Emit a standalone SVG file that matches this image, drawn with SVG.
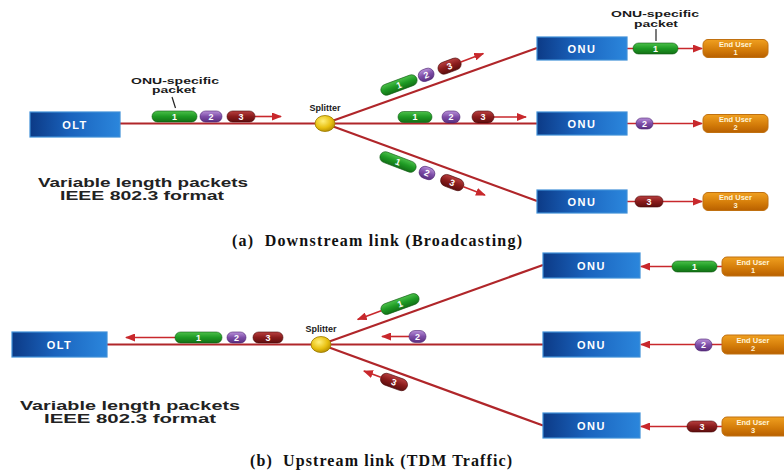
<svg xmlns="http://www.w3.org/2000/svg" width="784" height="471" viewBox="0 0 784 471">
<defs>
<linearGradient id="gBlue" x1="0" y1="0" x2="1" y2="0">
<stop offset="0" stop-color="#0c3a86"/><stop offset="0.45" stop-color="#1a63bd"/><stop offset="1" stop-color="#2b86dc"/>
</linearGradient>
<linearGradient id="gOrange" x1="0" y1="0" x2="0" y2="1">
<stop offset="0" stop-color="#f0a020"/><stop offset="0.6" stop-color="#d27a08"/><stop offset="1" stop-color="#b86000"/>
</linearGradient>
<linearGradient id="gGreen" x1="0" y1="0" x2="0" y2="1">
<stop offset="0" stop-color="#4cc04a"/><stop offset="0.5" stop-color="#1e9a24"/><stop offset="1" stop-color="#137016"/>
</linearGradient>
<linearGradient id="gPurple" x1="0" y1="0" x2="0" y2="1">
<stop offset="0" stop-color="#b890d8"/><stop offset="0.5" stop-color="#7e4ea8"/><stop offset="1" stop-color="#5a2f80"/>
</linearGradient>
<linearGradient id="gRed" x1="0" y1="0" x2="0" y2="1">
<stop offset="0" stop-color="#b84040"/><stop offset="0.5" stop-color="#8a1c1c"/><stop offset="1" stop-color="#5e0e0e"/>
</linearGradient>
<radialGradient id="gYellow" cx="0.4" cy="0.35" r="0.7">
<stop offset="0" stop-color="#fff07a"/><stop offset="0.6" stop-color="#e8c010"/><stop offset="1" stop-color="#b08a00"/>
</radialGradient>
<marker id="ah" viewBox="0 0 10 8" refX="9" refY="4" markerWidth="10" markerHeight="8" markerUnits="userSpaceOnUse" orient="auto">
<path d="M0,0 L10,4 L0,8 Z" fill="#c8282c"/>
</marker>
<style>
.box{fill:url(#gBlue);stroke:#3f8fd8;stroke-width:1.2}
.boxt{font-family:"Liberation Sans",Arial,sans-serif;font-weight:bold;font-size:11px;fill:#ffffff;text-anchor:middle;letter-spacing:1.5px}
.eu{fill:url(#gOrange);stroke:#c07010;stroke-width:1}
.eut{font-family:"Liberation Sans",Arial,sans-serif;font-weight:bold;font-size:7.5px;fill:#fff4d8;text-anchor:middle}
.fib{stroke:#b0262a;stroke-width:2.2;fill:none}
.arr{stroke:#c8282c;stroke-width:1.6;fill:none;marker-end:url(#ah)}
.pg{fill:url(#gGreen);stroke:#0f5a12;stroke-width:0.6}
.pp{fill:url(#gPurple);stroke:#4a2070;stroke-width:0.6}
.pr{fill:url(#gRed);stroke:#4a0808;stroke-width:0.6}
.pt{font-family:"Liberation Sans",Arial,sans-serif;font-weight:bold;font-size:9px;fill:#ffffff;text-anchor:middle}
.lbl{font-family:"Liberation Sans",Arial,sans-serif;font-weight:bold;font-size:9px;fill:#1a1a1a;text-anchor:middle}
.note{font-family:"Liberation Sans",Arial,sans-serif;font-weight:bold;font-size:13px;fill:#222222;text-anchor:middle}
.cap{font-family:"Liberation Serif","Times New Roman",serif;font-weight:bold;font-size:16px;fill:#111111}
.lead{stroke:#222222;stroke-width:1.2}
</style>
</defs>
<rect width="784" height="471" fill="#ffffff"/>

<!-- ================= (a) Downstream ================= -->
<g id="connectors-a">
<line class="fib" x1="120" y1="123.5" x2="325" y2="123.5"/>
<line class="fib" x1="325" y1="123.5" x2="537" y2="48"/>
<line class="fib" x1="325" y1="123.5" x2="537" y2="123.5"/>
<line class="fib" x1="325" y1="123.5" x2="537" y2="201"/>
<line class="arr" x1="627" y1="48.5" x2="702" y2="48.5"/>
<line class="arr" x1="627" y1="123.5" x2="702" y2="123.5"/>
<line class="arr" x1="627" y1="201.5" x2="702" y2="201.5"/>
<line class="arr" x1="255" y1="116.5" x2="281" y2="116.5"/>
<line class="arr" x1="493" y1="117" x2="526" y2="117"/>
<line class="lead" x1="172" y1="97" x2="175.5" y2="108"/>
<line class="lead" x1="656" y1="29" x2="656" y2="41"/>
</g>

<g id="olt-a">
<rect class="box" x="30" y="112" width="90" height="25"/>
<text class="boxt" x="75" y="128.5">OLT</text>
</g>
<g id="splitter-a">
<ellipse cx="325" cy="123.5" rx="10" ry="8" fill="url(#gYellow)" stroke="#9a7a00" stroke-width="0.8"/>
<text class="lbl" x="325" y="111" font-size="9.5">Splitter</text>
</g>
<g id="onu1-a">
<rect class="box" x="537" y="37" width="90" height="23"/>
<text class="boxt" x="582" y="52.5">ONU</text>
</g>
<g id="onu2-a">
<rect class="box" x="537" y="112" width="90" height="23"/>
<text class="boxt" x="582" y="127.5">ONU</text>
</g>
<g id="onu3-a">
<rect class="box" x="537" y="190" width="90" height="23"/>
<text class="boxt" x="582" y="205.5">ONU</text>
</g>
<g id="eu1-a">
<rect class="eu" x="703" y="39.5" width="65" height="18" rx="5"/>
<text class="eut" x="735.5" y="47">End User</text><text class="eut" x="735.5" y="55">1</text>
</g>
<g id="eu2-a">
<rect class="eu" x="703" y="114.5" width="65" height="18" rx="5"/>
<text class="eut" x="735.5" y="122">End User</text><text class="eut" x="735.5" y="130">2</text>
</g>
<g id="eu3-a">
<rect class="eu" x="703" y="192.5" width="65" height="18" rx="5"/>
<text class="eut" x="735.5" y="200">End User</text><text class="eut" x="735.5" y="208">3</text>
</g>

<!-- packets (a) -->
<g id="pk-olt-a">
<rect class="pg" x="152" y="111" width="45" height="11" rx="5.5"/><text class="pt" x="174.5" y="119.8">1</text>
<rect class="pp" x="200" y="111" width="22" height="11" rx="5.5"/><text class="pt" x="211" y="119.8">2</text>
<rect class="pr" x="227" y="111" width="28" height="11" rx="5.5"/><text class="pt" x="241" y="119.8">3</text>
</g>
<g id="pk-top-a" transform="translate(399,85) rotate(-20.5)">
<rect class="pg" x="-19" y="-5.5" width="38" height="11" rx="5.5"/><text class="pt" x="0" y="3.2">1</text>
<rect class="pp" x="21" y="-6" width="16" height="12" rx="6"/><text class="pt" x="29" y="3.2">2</text>
<rect class="pr" x="42" y="-6" width="24" height="12" rx="6"/><text class="pt" x="54" y="3.2">3</text>
<line class="arr" x1="66" y1="0" x2="90" y2="0"/>
</g>
<g id="pk-mid-a">
<rect class="pg" x="398" y="111.5" width="34" height="11" rx="5.5"/><text class="pt" x="415" y="120.3">1</text>
<rect class="pp" x="442" y="111" width="18" height="12" rx="6"/><text class="pt" x="451" y="120.3">2</text>
<rect class="pr" x="472" y="111" width="22" height="12" rx="6"/><text class="pt" x="483" y="120.3">3</text>
</g>
<g id="pk-bot-a" transform="translate(398,162) rotate(20.8)">
<rect class="pg" x="-19" y="-5.5" width="38" height="11" rx="5.5"/><text class="pt" x="0" y="3.2">1</text>
<rect class="pp" x="23" y="-6" width="16" height="12" rx="6"/><text class="pt" x="31" y="3.2">2</text>
<rect class="pr" x="46" y="-6" width="24" height="12" rx="6"/><text class="pt" x="58" y="3.2">3</text>
<line class="arr" x1="70" y1="0" x2="93" y2="0"/>
</g>
<g id="pk-onu-a">
<rect class="pg" x="633" y="43" width="45" height="11" rx="5.5"/><text class="pt" x="655.5" y="51.8">1</text>
<rect class="pp" x="636" y="118" width="17" height="11" rx="5.5"/><text class="pt" x="644.5" y="126.8">2</text>
<rect class="pr" x="635" y="196" width="28" height="11" rx="5.5"/><text class="pt" x="649" y="204.8">3</text>
</g>

<g id="labels-a">
<text class="lbl" x="175" y="84" textLength="88" lengthAdjust="spacingAndGlyphs">ONU-specific</text>
<text class="lbl" x="174" y="92.5" textLength="44" lengthAdjust="spacingAndGlyphs">packet</text>
<text class="lbl" x="655" y="17" textLength="88" lengthAdjust="spacingAndGlyphs">ONU-specific</text>
<text class="lbl" x="656" y="26.5" textLength="44" lengthAdjust="spacingAndGlyphs">packet</text>
<text class="note" x="143" y="186.5" textLength="210" lengthAdjust="spacingAndGlyphs">Variable length packets</text>
<text class="note" x="142" y="200" textLength="164" lengthAdjust="spacingAndGlyphs">IEEE 802.3 format</text>
<text class="cap" x="232" y="245.5" textLength="290" lengthAdjust="spacing" xml:space="preserve">(a)  Downstream link (Broadcasting)</text>
</g>

<!-- ================= (b) Upstream ================= -->
<g id="connectors-b">
<line class="fib" x1="107" y1="344.5" x2="321" y2="344.5"/>
<line class="fib" x1="321" y1="344.5" x2="543" y2="265"/>
<line class="fib" x1="321" y1="344.5" x2="543" y2="344.5"/>
<line class="fib" x1="321" y1="344.5" x2="543" y2="425.5"/>
<line class="arr" x1="722" y1="266.5" x2="641" y2="266.5"/>
<line class="arr" x1="722" y1="344.5" x2="641" y2="344.5"/>
<line class="arr" x1="722" y1="426.5" x2="641" y2="426.5"/>
<line class="arr" x1="175" y1="337.5" x2="126" y2="337.5"/>
<line class="arr" x1="409" y1="336.5" x2="382" y2="336.5"/>
</g>

<g id="olt-b">
<rect class="box" x="12" y="332" width="95" height="25"/>
<text class="boxt" x="59.5" y="348.5">OLT</text>
</g>
<g id="splitter-b">
<ellipse cx="321" cy="344.5" rx="10" ry="8" fill="url(#gYellow)" stroke="#9a7a00" stroke-width="0.8"/>
<text class="lbl" x="321" y="332" font-size="9.5">Splitter</text>
</g>
<g id="onu1-b">
<rect class="box" x="543" y="253" width="97" height="25"/>
<text class="boxt" x="591.5" y="269.5">ONU</text>
</g>
<g id="onu2-b">
<rect class="box" x="543" y="332" width="97" height="25"/>
<text class="boxt" x="591.5" y="348.5">ONU</text>
</g>
<g id="onu3-b">
<rect class="box" x="543" y="413" width="97" height="25"/>
<text class="boxt" x="591.5" y="429.5">ONU</text>
</g>
<g id="eu1-b">
<rect class="eu" x="722" y="257" width="70" height="19" rx="5"/>
<text class="eut" x="753" y="265">End User</text><text class="eut" x="753" y="273">1</text>
</g>
<g id="eu2-b">
<rect class="eu" x="722" y="335" width="70" height="19" rx="5"/>
<text class="eut" x="753" y="343">End User</text><text class="eut" x="753" y="351">2</text>
</g>
<g id="eu3-b">
<rect class="eu" x="722" y="417" width="70" height="19" rx="5"/>
<text class="eut" x="753" y="425">End User</text><text class="eut" x="753" y="433">3</text>
</g>

<!-- packets (b) -->
<g id="pk-olt-b">
<rect class="pg" x="175" y="332" width="47" height="11" rx="5.5"/><text class="pt" x="198.5" y="340.8">1</text>
<rect class="pp" x="227" y="332" width="19" height="11" rx="5.5"/><text class="pt" x="236.5" y="340.8">2</text>
<rect class="pr" x="253" y="332" width="30" height="11" rx="5.5"/><text class="pt" x="268" y="340.8">3</text>
</g>
<g id="pk-top-b" transform="translate(400,304) rotate(-20)">
<rect class="pg" x="-20" y="-5.5" width="40" height="11" rx="5.5"/><text class="pt" x="0" y="3.2">1</text>
<line class="arr" x1="-20" y1="0" x2="-45" y2="0"/>
</g>
<g id="pk-mid-b">
<rect class="pp" x="409" y="330.5" width="17" height="12" rx="6"/><text class="pt" x="417.5" y="339.8">2</text>
</g>
<g id="pk-bot-b" transform="translate(394,382) rotate(20)">
<rect class="pr" x="-14" y="-6" width="28" height="12" rx="6"/><text class="pt" x="0" y="3.2">3</text>
<line class="arr" x1="-14" y1="0" x2="-32" y2="0"/>
</g>
<g id="pk-onu-b">
<rect class="pg" x="672" y="261" width="45" height="11" rx="5.5"/><text class="pt" x="694.5" y="269.8">1</text>
<rect class="pp" x="695" y="339" width="17" height="12" rx="6"/><text class="pt" x="703.5" y="348.3">2</text>
<rect class="pr" x="687" y="421" width="30" height="11" rx="5.5"/><text class="pt" x="702" y="429.8">3</text>
</g>

<g id="labels-b">
<text class="note" x="130" y="409.5" textLength="220" lengthAdjust="spacingAndGlyphs">Variable length packets</text>
<text class="note" x="130" y="423" textLength="172" lengthAdjust="spacingAndGlyphs">IEEE 802.3 format</text>
<text class="cap" x="250" y="466" textLength="262" lengthAdjust="spacing" xml:space="preserve">(b)  Upstream link (TDM Traffic)</text>
</g>
</svg>
